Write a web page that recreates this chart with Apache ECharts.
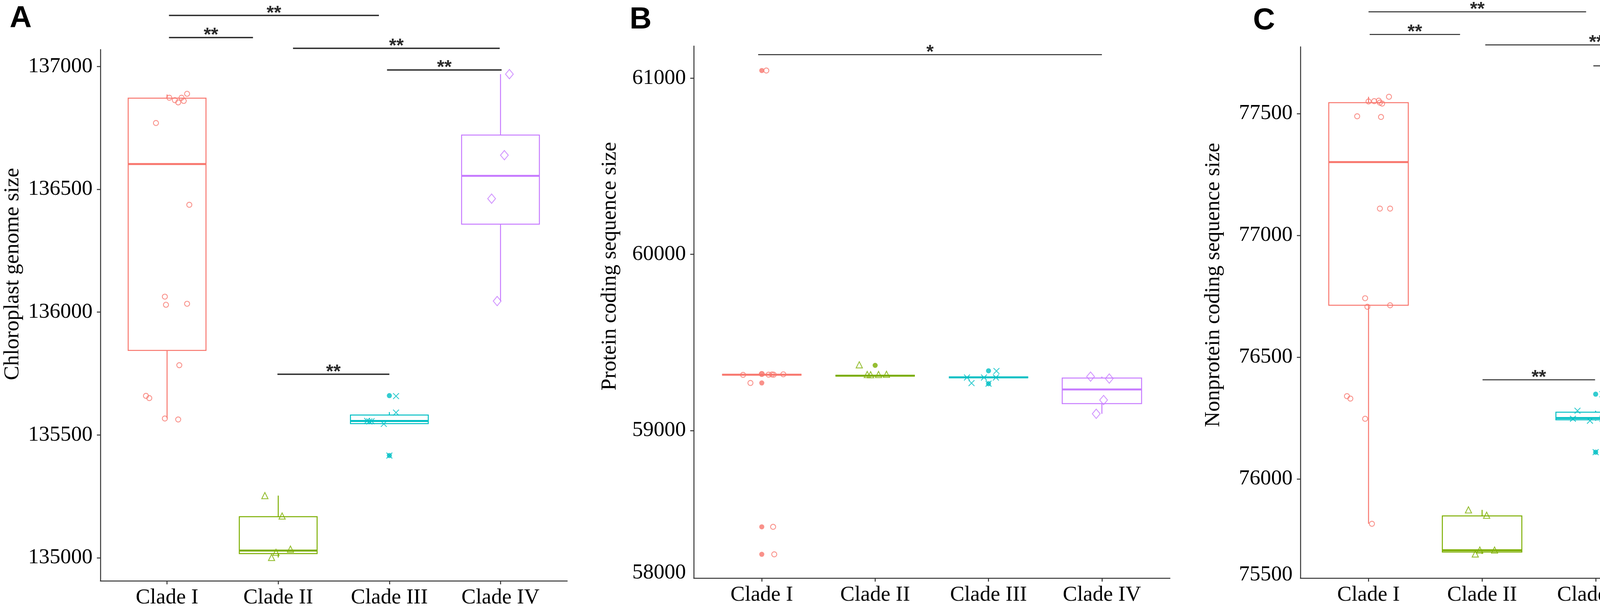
<!DOCTYPE html>
<html>
<head>
<meta charset="utf-8">
<script src="https://cdn.jsdelivr.net/npm/echarts@6/dist/echarts.min.js"></script>
<style>
html, body { margin: 0; padding: 0; background: #fff; }
#chart { width: 4550px; height: 1573px; }
</style>
</head>
<body>
<div id="chart"></div>
<script>
// categories and colours
var clades = ['Clade I', 'Clade II', 'Clade III', 'Clade IV'];
var cladeColors = ['#F8766D', '#7CAE00', '#00BFC4', '#C77CFF'];

// ---- panel A : chloroplast genome size ----
// box stats per clade: [lower whisker, Q1, median, Q3, upper whisker]
var boxA = [
  [135567, 135844, 136603, 136871, 136886],
  [135001, 135017, 135029, 135167, 135253],
  [135545, 135546, 135557, 135581, 135593],
  [136045, 136358, 136555, 136721, 136969]
];
var ptsA1 = [136889, 136873, 136863, 136873, 136854, 136860, 136770, 136437, 136063, 136030, 136034, 135784, 135659, 135650, 135567, 135563];
var jitA1 = [0.18, 0.02, 0.07, 0.13, 0.10, 0.15, -0.10, 0.20, -0.02, -0.01, 0.18, 0.11, -0.19, -0.16, -0.02, 0.10];
var ptsA2 = [135253, 135170, 135035, 135022, 135001];
var jitA2 = [-0.12, 0.035, 0.11, -0.02, -0.06];
var ptsA3 = [135658, 135591, 135557, 135555, 135556, 135545, 135416];
var jitA3 = [0.06, 0.06, -0.20, -0.18, -0.16, -0.05, 0.0];
var ptsA4 = [136969, 136639, 136462, 136045];
var jitA4 = [0.08, 0.035, -0.08, -0.03];
var outA = [[], [], [135660, 135416], []];
// brackets: [from, to, height]
var brA = [[1.017, 2.906, 137208], [1.017, 1.773, 137118], [2.133, 3.993, 137074], [2.979, 4.01, 136986], [1.993, 3.0, 135747]];
var starA = ['**', '**', '**', '**', '**'];
var yTickA = [135000, 135500, 136000, 136500, 137000];
var yLabelAtA = [135000, 135500, 136000, 136500, 137000];
var yTextA = ['135000', '135500', '136000', '136500', '137000'];

// ---- panel B : protein coding sequence size ----
var boxB = [
  [59317, 59317, 59317, 59317, 59317],
  [59311, 59311, 59311, 59311, 59311],
  [59302, 59302, 59302, 59302, 59302],
  [59095, 59153, 59233, 59298, 59306]
];
var ptsB1 = [61044, 59321, 59316, 59317, 59318, 59317, 59319, 59270, 58453, 58297];
var jitB1 = [0.04, 0.0, -0.165, 0.06, 0.09, 0.105, 0.19, -0.10, 0.10, 0.11];
var ptsB2 = [59373, 59318, 59317, 59318, 59319];
var jitB2 = [-0.14, -0.07, -0.04, 0.03, 0.10];
var ptsB3 = [59338, 59301, 59269, 59301, 59301, 59266];
var jitB3 = [0.07, -0.19, -0.15, -0.04, 0.065, 0.0];
var ptsB4 = [59306, 59295, 59173, 59095];
var jitB4 = [-0.10, 0.065, 0.015, -0.05];
var outB = [[61044, 59321, 59270, 58453, 58297], [59370], [59339, 59266], []];
var brB = [[0.968, 4.0, 61134]];
var starB = ['*'];
var yTickB = [59000, 60000, 61000];
var yLabelAtB = [58191, 59000, 60000, 61000];
var yTextB = ['58000', '59000', '60000', '61000'];

// ---- panel C : nonprotein coding sequence size ----
var boxC = [
  [75816, 76713, 77301, 77545, 77569],
  [75692, 75700, 75707, 75848, 75873],
  [76239, 76243, 76250, 76274, 76280],
  [76942, 77100, 77311, 77519, 77672]
];
var ptsC1 = [77569, 77551, 77553, 77545, 77541, 77550, 77489, 77486, 77110, 77110, 76742, 76707, 76713, 76340, 76330, 76247, 75816];
var jitC1 = [0.18, 0.05, 0.09, 0.10, 0.12, 0.0, -0.10, 0.11, 0.10, 0.19, -0.03, -0.01, 0.19, -0.19, -0.16, -0.03, 0.03];
var ptsC2 = [75873, 75851, 75708, 75692, 75708];
var jitC2 = [-0.12, 0.04, -0.02, -0.06, 0.11];
var ptsC3 = [76348, 76280, 76247, 76239, 76247, 76110];
var jitC3 = [0.06, -0.16, -0.20, -0.05, 0.06, 0.0];
var ptsC4 = [77672, 77465, 77153, 76942];
var jitC4 = [0.09, 0.04, -0.07, -0.03];
var outC = [[], [], [76348, 76110], []];
var brC = [[1.0, 2.916, 77918], [1.01, 1.806, 77825], [2.028, 3.983, 77782], [2.98, 4.0, 77696], [2.004, 2.995, 76407]];
var starC = ['**', '**', '**', '**', '**'];
var yTickC = [76000, 76500, 77000, 77500];
var yLabelAtC = [75607, 76000, 76500, 77000, 77500];
var yTextC = ['75500', '76000', '76500', '77000', '77500'];

var serif = '"Liberation Serif", "DejaVu Serif", serif';
var sans = '"Liberation Sans", Arial, sans-serif';
var axisCol = '#333333';
var boxWidth = 0.7;

// marker shapes (open circle, open triangle, cross, open diamond)
var shapes = [
  { symbol: 'circle', size: 13 },
  { symbol: 'triangle', size: 16 },
  { symbol: 'path://M0,0L10,10M10,0L0,10', size: 15 },
  { symbol: 'diamond', size: [20, 24] }
];

var panels = [
  { grid: { left: 257, top: 127, width: 1195, height: 1361 }, min: 134906, max: 137069,
    box: boxA, pts: [ptsA1, ptsA2, ptsA3, ptsA4], jit: [jitA1, jitA2, jitA3, jitA4], out: outA,
    br: brA, star: starA, brWidth: 3.5, tick: yTickA, labelAt: yLabelAtA, text: yTextA },
  { grid: { left: 1776, top: 118, width: 1219, height: 1363 }, min: 58162, max: 61183,
    box: boxB, pts: [ptsB1, ptsB2, ptsB3, ptsB4], jit: [jitB1, jitB2, jitB3, jitB4], out: outB,
    br: brB, star: starB, brWidth: 2.5, tick: yTickB, labelAt: yLabelAtB, text: yTextB },
  { grid: { left: 3329, top: 120, width: 1221, height: 1361 }, min: 75593, max: 77774,
    box: boxC, pts: [ptsC1, ptsC2, ptsC3, ptsC4], jit: [jitC1, jitC2, jitC3, jitC4], out: outC,
    br: brC, star: starC, brWidth: 2.5, tick: yTickC, labelAt: yLabelAtC, text: yTextC }
];

function renderBox(params, api) {
  var ci = api.value(0);
  var col = cladeColors[ci - 1];
  var lo = api.coord([ci, api.value(1)]);
  var q1 = api.coord([ci, api.value(2)]);
  var md = api.coord([ci, api.value(3)]);
  var q3 = api.coord([ci, api.value(4)]);
  var hi = api.coord([ci, api.value(5)]);
  var left = api.coord([ci - boxWidth / 2, api.value(3)])[0];
  var right = api.coord([ci + boxWidth / 2, api.value(3)])[0];
  return {
    type: 'group',
    children: [
      { type: 'line', shape: { x1: lo[0], y1: lo[1], x2: q1[0], y2: q1[1] }, style: { stroke: col, lineWidth: 2.5 } },
      { type: 'line', shape: { x1: q3[0], y1: q3[1], x2: hi[0], y2: hi[1] }, style: { stroke: col, lineWidth: 2.5 } },
      { type: 'rect', shape: { x: left, y: q3[1], width: right - left, height: q1[1] - q3[1] }, style: { fill: 'rgba(255,255,255,0)', stroke: col, lineWidth: 2.5 } },
      { type: 'line', shape: { x1: left, y1: md[1], x2: right, y2: md[1] }, style: { stroke: col, lineWidth: 5 } }
    ]
  };
}

function bracketRenderer(p) {
  return function (params, api) {
    var a = api.coord([api.value(0), api.value(2)]);
    var b = api.coord([api.value(1), api.value(2)]);
    return {
      type: 'group',
      children: [
        { type: 'line', shape: { x1: a[0], y1: a[1], x2: b[0], y2: b[1] }, style: { stroke: '#2b2b2b', lineWidth: p.brWidth } },
        { type: 'text', style: { text: p.star[params.dataIndex], x: (a[0] + b[0]) / 2, y: a[1] - 5,
          align: 'center', verticalAlign: 'middle', textAlign: 'center', textVerticalAlign: 'middle',
          fill: '#2b2b2b', font: 'bold 48px ' + sans } }
      ]
    };
  };
}

function nearestText(list, texts) {
  return function (v) {
    var best = 0;
    for (var i = 1; i < list.length; i++) {
      if (Math.abs(list[i] - v) < Math.abs(list[best] - v)) best = i;
    }
    return texts[best];
  };
}

var grids = [], xAxes = [], yAxes = [], series = [];
panels.forEach(function (p, pi) {
  grids.push(p.grid);
  xAxes.push({
    type: 'value', gridIndex: pi, min: 0.4, max: 4.6,
    axisLine: { show: true, lineStyle: { color: axisCol, width: 2.5 } },
    axisTick: { show: true, customValues: [1, 2, 3, 4], length: 9, lineStyle: { color: axisCol, width: 2.5 } },
    axisLabel: { customValues: [1, 2, 3, 4], margin: 16, color: '#000', fontSize: 55, fontFamily: serif,
      formatter: function (v) { return clades[Math.round(v) - 1]; } },
    splitLine: { show: false }
  });
  yAxes.push({
    type: 'value', gridIndex: pi, min: p.min, max: p.max,
    axisLine: { show: true, lineStyle: { color: axisCol, width: 2.5 } },
    axisTick: { show: true, customValues: p.tick, length: 9, lineStyle: { color: axisCol, width: 2.5 } },
    axisLabel: { customValues: p.labelAt, margin: 20, color: '#000', fontSize: 55, fontFamily: serif,
      formatter: nearestText(p.labelAt, p.text) },
    splitLine: { show: false }
  });
  series.push({
    type: 'custom', xAxisIndex: pi, yAxisIndex: pi, z: 2, clip: false, silent: true,
    data: p.box.map(function (b, i) { return [i + 1].concat(b); }),
    encode: { x: 0, y: [1, 2, 3, 4, 5] },
    renderItem: renderBox
  });
  p.pts.forEach(function (vals, ci) {
    var sh = shapes[ci];
    series.push({
      type: 'scatter', xAxisIndex: pi, yAxisIndex: pi, z: 3, silent: true,
      symbol: sh.symbol, symbolSize: sh.size,
      itemStyle: { color: 'rgba(255,255,255,0)', borderColor: cladeColors[ci], borderWidth: 2.2 },
      data: vals.map(function (v, k) { return [ci + 1 + p.jit[ci][k], v]; })
    });
    if (p.out[ci].length) {
      series.push({
        type: 'scatter', xAxisIndex: pi, yAxisIndex: pi, z: 4, silent: true,
        symbol: 'circle', symbolSize: 13,
        itemStyle: { color: cladeColors[ci] },
        data: p.out[ci].map(function (v) { return [ci + 1, v]; })
      });
    }
  });
  series.push({
    type: 'custom', xAxisIndex: pi, yAxisIndex: pi, z: 5, clip: false, silent: true,
    data: p.br, encode: { x: [0, 1], y: 2 },
    renderItem: bracketRenderer(p)
  });
});

function label(txt, x, y, font, rot) {
  return {
    type: 'text', x: x, y: y, rotation: rot || 0,
    style: { text: txt, x: 0, y: 0, align: 'center', verticalAlign: 'middle',
      textAlign: 'center', textVerticalAlign: 'middle', fill: '#000', font: font }
  };
}

var chart = echarts.init(document.getElementById('chart'), null, { renderer: 'canvas' });
chart.setOption({
  backgroundColor: '#ffffff',
  animation: false,
  grid: grids,
  xAxis: xAxes,
  yAxis: yAxes,
  series: series,
  graphic: [
    label('A', 53, 48, 'bold 78px ' + sans),
    label('B', 1640, 51, 'bold 78px ' + sans),
    label('C', 3236, 53, 'bold 78px ' + sans),
    label('Chloroplast genome size', 33, 702, '55px ' + serif, Math.PI / 2),
    label('Protein coding sequence size', 1562, 682, '55px ' + serif, Math.PI / 2),
    label('Nonprotein coding sequence size', 3107, 730, '55px ' + serif, Math.PI / 2)
  ]
});
</script>
</body>
</html>
